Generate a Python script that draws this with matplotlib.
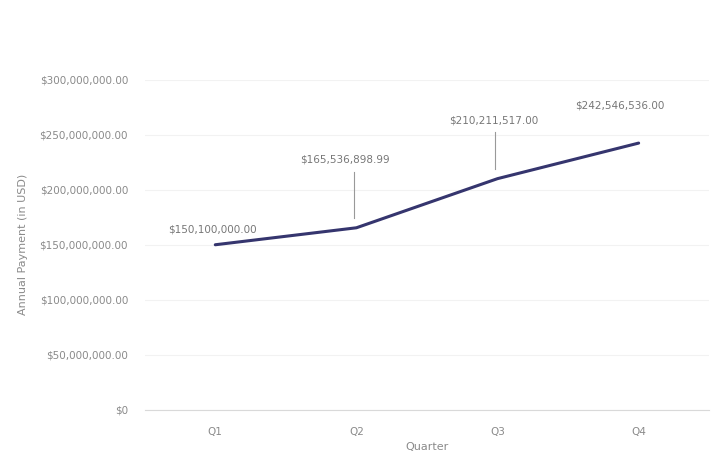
import matplotlib
matplotlib.use('Agg')
import matplotlib.pyplot as plt
from matplotlib.ticker import FuncFormatter

quarters = ["Q1", "Q2", "Q3", "Q4"]
payments = [150100000.00, 165536898.99, 210211517.00, 242546536.00]
label_text = ["$150,100,000.00", "$165,536,898.99", "$210,211,517.00", "$242,546,536.00"]
yticks = [0, 50e6, 100e6, 150e6, 200e6, 250e6, 300e6]

fig = plt.figure(figsize=(7.2, 4.7), dpi=100)
ax = fig.add_axes([0.201, 0.128, 0.784, 0.702])

x = range(len(quarters))
ax.plot(x, payments, color='#35356e', linewidth=2.2, solid_capstyle='round', zorder=3)

ax.set_xlim(-0.5, 3.5)
ax.set_ylim(0, 300e6)
ax.set_xticks(list(x))
ax.set_xticklabels(quarters)
ax.set_yticks(yticks)
ax.yaxis.set_major_formatter(FuncFormatter(lambda v, p: "$0" if v == 0 else f"${v:,.2f}"))
ax.tick_params(axis='both', length=0, labelsize=7.5, labelcolor='#8a8a8a', pad=12)

ax.grid(axis='y', color='#f2f2f2', linewidth=0.8)
for s in ['top', 'right', 'left']:
    ax.spines[s].set_visible(False)
ax.spines['bottom'].set_color('#d9d9d9')

ax.set_xlabel("Quarter", fontsize=8, color='#8a8a8a', labelpad=4)
ax.set_ylabel("Annual Payment (in USD)", fontsize=8, color='#8a8a8a', labelpad=8)

# value callouts; middle two get a short leader line down to the curve
offsets = [(-0.02, 14e6, False), (-0.08, 62e6, True), (-0.03, 53e6, True), (-0.13, 34e6, False)]
for i, (dx, dy, leader) in enumerate(offsets):
    tx, ty = i + dx, payments[i] + dy
    ax.text(tx, ty, label_text[i], ha='center', va='center', fontsize=7.5, color='#777777')
    if leader:
        ax.plot([i - 0.02, i - 0.02], [ty - 11e6, payments[i] + 9e6],
                color='#999999', linewidth=0.8)

fig.savefig("out.png", dpi=100)
